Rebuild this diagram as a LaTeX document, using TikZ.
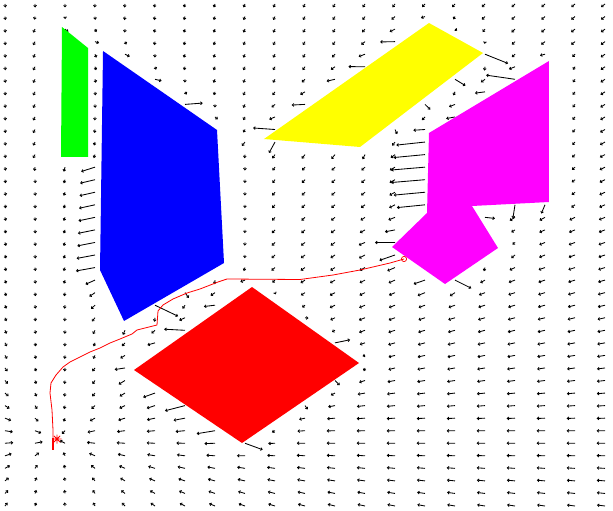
\documentclass[tikz,border=0pt]{standalone}
\usetikzlibrary{arrows.meta}
% repulsion parameters (data units: 1 unit = one grid step)
\newcommand\pfk{0.4}
\newcommand\pfdz{2}
% obstacle outlines in data units (last vertex repeated first)
\newcommand\pfGreen{1.867/12.191, 1.9/1.833, 2.767/3.506, 2.767/12.191, 1.867/12.191}
\newcommand\pfBlue{3.167/21.195, 3.267/3.745, 7.067/10.040, 7.3/20.637, 3.967/25.259, 3.167/21.195}
\newcommand\pfYellow{8.633/10.757, 14.133/1.514, 15.933/3.904, 11.833/11.394, 8.633/10.757}
\newcommand\pfMagenta{14.133/10.279, 18.133/4.542, 18.133/15.777, 15.567/16.096, 16.433/19.442, 14.667/22.311, 12.9/19.363, 14.067/16.653, 14.133/10.279}
\newcommand\pfRed{4.3/29.163, 8.233/22.55, 11.8/28.606, 7.9/34.98, 4.3/29.163}
\newcommand\pfedge{%
  \pgfmathsetmacro\pfex{\pfbx-\pfax}%
  \pgfmathsetmacro\pfey{\pfby-\pfay}%
  \pgfmathsetmacro\pft{min(max(((\qi-\pfax)*\pfex+(\qj-\pfay)*\pfey)/(\pfex*\pfex+\pfey*\pfey),0),1)}%
  \pgfmathsetmacro\pfqx{\qi-\pfax-\pft*\pfex}%
  \pgfmathsetmacro\pfqy{\qj-\pfay-\pft*\pfey}%
  \pgfmathsetmacro\pfdd{sqrt(\pfqx*\pfqx+\pfqy*\pfqy)}%
  \ifdim\pfdd pt<\pfdmin pt \xdef\pfdmin{\pfdd}\xdef\pfnx{\pfqx}\xdef\pfny{\pfqy}\fi
  \pgfmathparse{(\pfay>\qj)!=(\pfby>\qj)}%
  \ifdim\pgfmathresult pt>0.5pt
    \pgfmathparse{\qi<\pfax+(\qj-\pfay)*\pfex/\pfey}%
    \ifdim\pgfmathresult pt>0.5pt
      \ifnum\pfins=0 \gdef\pfins{1}\else\gdef\pfins{0}\fi
    \fi
  \fi}
\newcommand\pfobs[5]{%
  \pgfmathparse{and(and(\qi>#1-\pfdz,\qi<#2+\pfdz),and(\qj>#3-\pfdz,\qj<#4+\pfdz))}%
  \ifdim\pgfmathresult pt>0.5pt
    \gdef\pfdmin{100}\gdef\pfins{0}\gdef\pfnx{0}\gdef\pfny{0}%
    \foreach \pfbx/\pfby [count=\pfc] in #5 {%
      \ifnum\pfc>1 \pfedge\fi
      \xdef\pfax{\pfbx}\xdef\pfay{\pfby}}%
    \ifnum\pfins=1 \gdef\pfhide{1}\else
      \ifdim\pfdmin pt<\pfdz pt
        \pgfmathsetmacro\pfd{max(\pfdmin,0.1)}%
        \pgfmathsetmacro\pfm{\pfk*(1/\pfd-1/\pfdz)}%
        \pgfmathparse{\pfRx+\pfm*\pfnx/\pfd}\xdef\pfRx{\pgfmathresult}%
        \pgfmathparse{\pfRy+\pfm*\pfny/\pfd}\xdef\pfRy{\pgfmathresult}%
      \fi
    \fi
  \fi}
\tikzset{
  qv/.style={line width=0.85pt,-{Straight Barb[length=1.6pt,width=2.8pt]}},
  trail/.style={red,line width=0.8pt,line join=round},
  obst/.style={draw=none},
}
\begin{document}
\begin{tikzpicture}[x=30pt,y=-12.55pt]
% page: 613 x 511 pixels, data origin at pixel (5,4)
\begin{scope}[x=1pt,y=-1pt,shift={(-5pt,4pt)}]
  \fill[white] (0,0) rectangle (613,511);
  \useasboundingbox (0,0) rectangle (613,511);
\end{scope}
% quiver field
\foreach \qi in {0,...,20}{%
 \foreach \qj in {0,...,40}{%
  \gdef\pfRx{0}\gdef\pfRy{0}\gdef\pfhide{0}%
  \pfobs{1.867}{2.767}{1.833}{12.191}\pfGreen
  \pfobs{3.167}{7.3}{3.745}{25.259}\pfBlue
  \pfobs{8.633}{15.933}{1.514}{11.394}\pfYellow
  \pfobs{12.9}{18.133}{4.542}{22.311}\pfMagenta
  \pfobs{4.3}{11.8}{22.55}{34.98}\pfRed
  \ifnum\pfhide=0
   \pgfmathsetmacro\pfgx{1.733-\qi}%
   \pgfmathsetmacro\pfgy{34.661-\qj}%
   \pgfmathsetmacro\pfgd{max(sqrt(\pfgx*\pfgx+\pfgy*\pfgy),0.05)}%
   \pgfmathsetmacro\pfU{max(min(\pfgx/\pfgd+\pfRx,60),-60)}%
   \pgfmathsetmacro\pfV{max(min(\pfgy/\pfgd+\pfRy,60),-60)}%
   \pgfmathsetmacro\pfL{8.4*sqrt(\pfU*\pfU+0.175*\pfV*\pfV)}%
   \pgfmathsetmacro\pff{0.28*min(1,34/max(\pfL,0.1))}%
   \draw[qv] (\qi,\qj) -- ++({\pff*(\pfU)},{\pff*(\pfV)});
  \fi}}
% obstacles
\fill[obst,fill={rgb,255:red,0;green,255;blue,0}] (1.9,1.833) -- (2.767,3.506) -- (2.767,12.191) -- (1.867,12.191) -- cycle;
\fill[obst,fill={rgb,255:red,0;green,0;blue,255}] (3.267,3.745) -- (7.067,10.040) -- (7.3,20.637) -- (3.967,25.259) -- (3.167,21.195) -- cycle;
\fill[obst,fill={rgb,255:red,255;green,255;blue,0}] (14.133,1.514) -- (15.933,3.904) -- (11.833,11.394) -- (8.633,10.757) -- cycle;
\fill[obst,fill={rgb,255:red,255;green,0;blue,255}] (18.133,4.542) -- (18.133,15.777) -- (15.567,16.096) -- (16.433,19.442) -- (14.667,22.311) -- (12.9,19.363) -- (14.067,16.653) -- (14.133,10.279) -- cycle;
\fill[obst,fill={rgb,255:red,255;green,0;blue,0}] (8.233,22.55) -- (11.8,28.606) -- (7.9,34.98) -- (4.3,29.163) -- cycle;
% path, start and goal (pixel coordinates)
\begin{scope}[x=1pt,y=-1pt,shift={(-5pt,4pt)}]
  \coordinate (start) at (404,259);
  \coordinate (goal) at (57,439);
  \coordinate (pend) at (53,438);
  \draw[trail] (start) -- (390,263) -- (360,270) -- (333,275) -- (300,279.5) -- (227,279)
    -- (218,282) -- (200,289) -- (187,293) -- (173,299) -- (163,305) -- (158,311) -- (157,325)
    -- (147,327.5) -- (137,330) -- (132,334) -- (120,339) -- (110,343) -- (100,348)
    -- (90,352) -- (80,357) -- (70,362) -- (63,367) -- (56,375) -- (51,383) -- (50,393)
    -- (52,410) -- (53,430) -- (pend);
  \draw[red,line width=1.6pt] (pend) -- (53,450);
  \draw[red,line width=0.7pt] (start) circle (2.6);
  \draw[red,line width=0.8pt] ([shift={(-4.5,0)}]goal) -- ([shift={(4.5,0)}]goal)
    ([shift={(0,-4.5)}]goal) -- ([shift={(0,4.5)}]goal)
    ([shift={(-3.2,-3.2)}]goal) -- ([shift={(3.2,3.2)}]goal)
    ([shift={(-3.2,3.2)}]goal) -- ([shift={(3.2,-3.2)}]goal);
\end{scope}
\end{tikzpicture}
\end{document}
